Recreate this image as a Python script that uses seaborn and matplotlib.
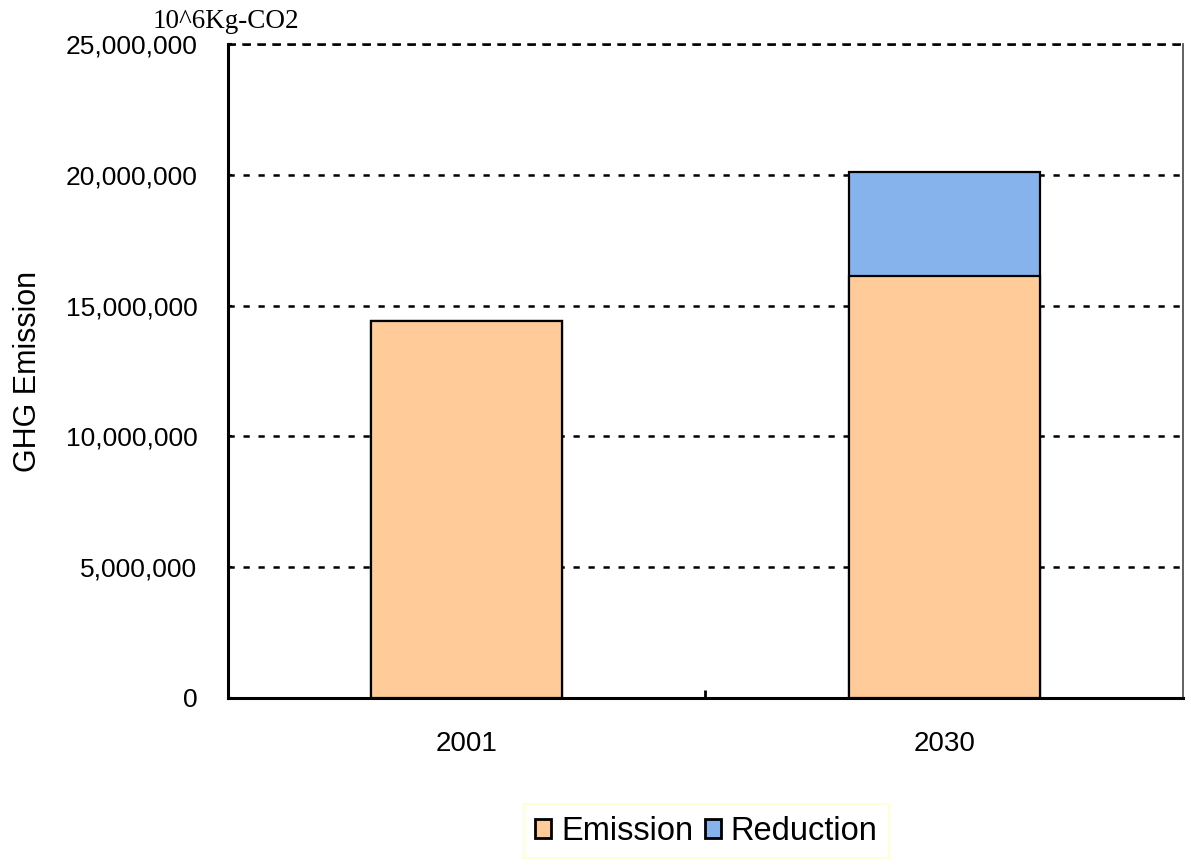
import matplotlib
matplotlib.use("Agg")
import matplotlib.pyplot as plt
from matplotlib.patches import Patch
from matplotlib.ticker import FuncFormatter, FixedLocator
import seaborn as sns
import pandas as pd

# GHG emission in 10^6 kg CO2
years = ["2001", "2030"]
emission = [14_420_000, 16_130_000]
reduction = [0, 3_980_000]
yticks = [0, 5_000_000, 10_000_000, 15_000_000, 20_000_000, 25_000_000]

ORANGE = "#FFCC99"
BLUE = "#86B3EC"

sns.set_theme(style="white")
plt.rcParams["font.family"] = ["Liberation Sans", "DejaVu Sans"]
plt.rcParams.update({"text.color": "black", "axes.labelcolor": "black",
                     "xtick.color": "black", "ytick.color": "black"})

df = pd.DataFrame({
    "year": years,
    "emission": emission,
    "total": [e + r for e, r in zip(emission, reduction)],
})

fig = plt.figure(figsize=(11.91, 8.66), dpi=100)
ax = fig.add_axes([0.1914, 0.194, 0.8019, 0.7552])

bar_kw = dict(width=0.4, edgecolor="black", linewidth=1.6, saturation=1,
              errorbar=None, ax=ax, zorder=3)
# stacked bars: the full total in blue, emission drawn over it in orange
sns.barplot(data=df, x="year", y="total", color=BLUE, **bar_kw)
sns.barplot(data=df, x="year", y="emission", color=ORANGE, **bar_kw)

ax.set_xlim(-0.5, 1.5)
ax.set_ylim(0, 25_000_000)
ax.yaxis.set_major_locator(FixedLocator(yticks))
ax.yaxis.set_major_formatter(FuncFormatter(lambda v, p: f"{int(v):,}"))

grid_style = (0, (2.5, 3.5))
ax.set_axisbelow(True)
ax.yaxis.grid(True, color="black", linestyle=grid_style, linewidth=1.8)
ax.xaxis.grid(False)

ax.set_xlabel("")
ax.set_ylabel("GHG Emission", fontsize=22, labelpad=16, color="black")

ax.tick_params(axis="y", which="major", left=True, direction="in", length=3,
               width=1.5, labelsize=19, pad=22, color="black",
               labelcolor="black")
ax.tick_params(axis="x", which="major", bottom=True, length=0,
               labelsize=20, pad=24, labelcolor="black")
ax.xaxis.set_minor_locator(FixedLocator([0.5]))
ax.tick_params(axis="x", which="minor", bottom=True, direction="in",
               length=6, width=2, color="black")

for side in ("left", "bottom"):
    ax.spines[side].set_color("black")
    ax.spines[side].set_linewidth(2.2)
ax.spines["right"].set_color("#555555")
ax.spines["right"].set_linewidth(1.3)
ax.spines["top"].set_color("black")
ax.spines["top"].set_linewidth(1.8)
ax.spines["top"].set_linestyle(grid_style)

fig.text(0.128, 0.968, "10^6Kg-CO2", fontsize=19.5, color="black",
         family=["Liberation Serif", "DejaVu Serif"], ha="left", va="baseline")

handles = [Patch(facecolor=ORANGE, edgecolor="black", linewidth=2, label="Emission"),
           Patch(facecolor=BLUE, edgecolor="black", linewidth=2, label="Reduction")]
leg = fig.legend(handles=handles, loc="center", bbox_to_anchor=(0.593, 0.040),
                 ncol=2, fontsize=23.5, frameon=True, fancybox=False,
                 handlelength=0.5, handleheight=0.5, handletextpad=0.3,
                 columnspacing=0.35, borderpad=0.35, labelcolor="black")
leg.get_frame().set_edgecolor("#FFFFCC")
leg.get_frame().set_linewidth(1.5)

fig.savefig("out.png", dpi=100)
